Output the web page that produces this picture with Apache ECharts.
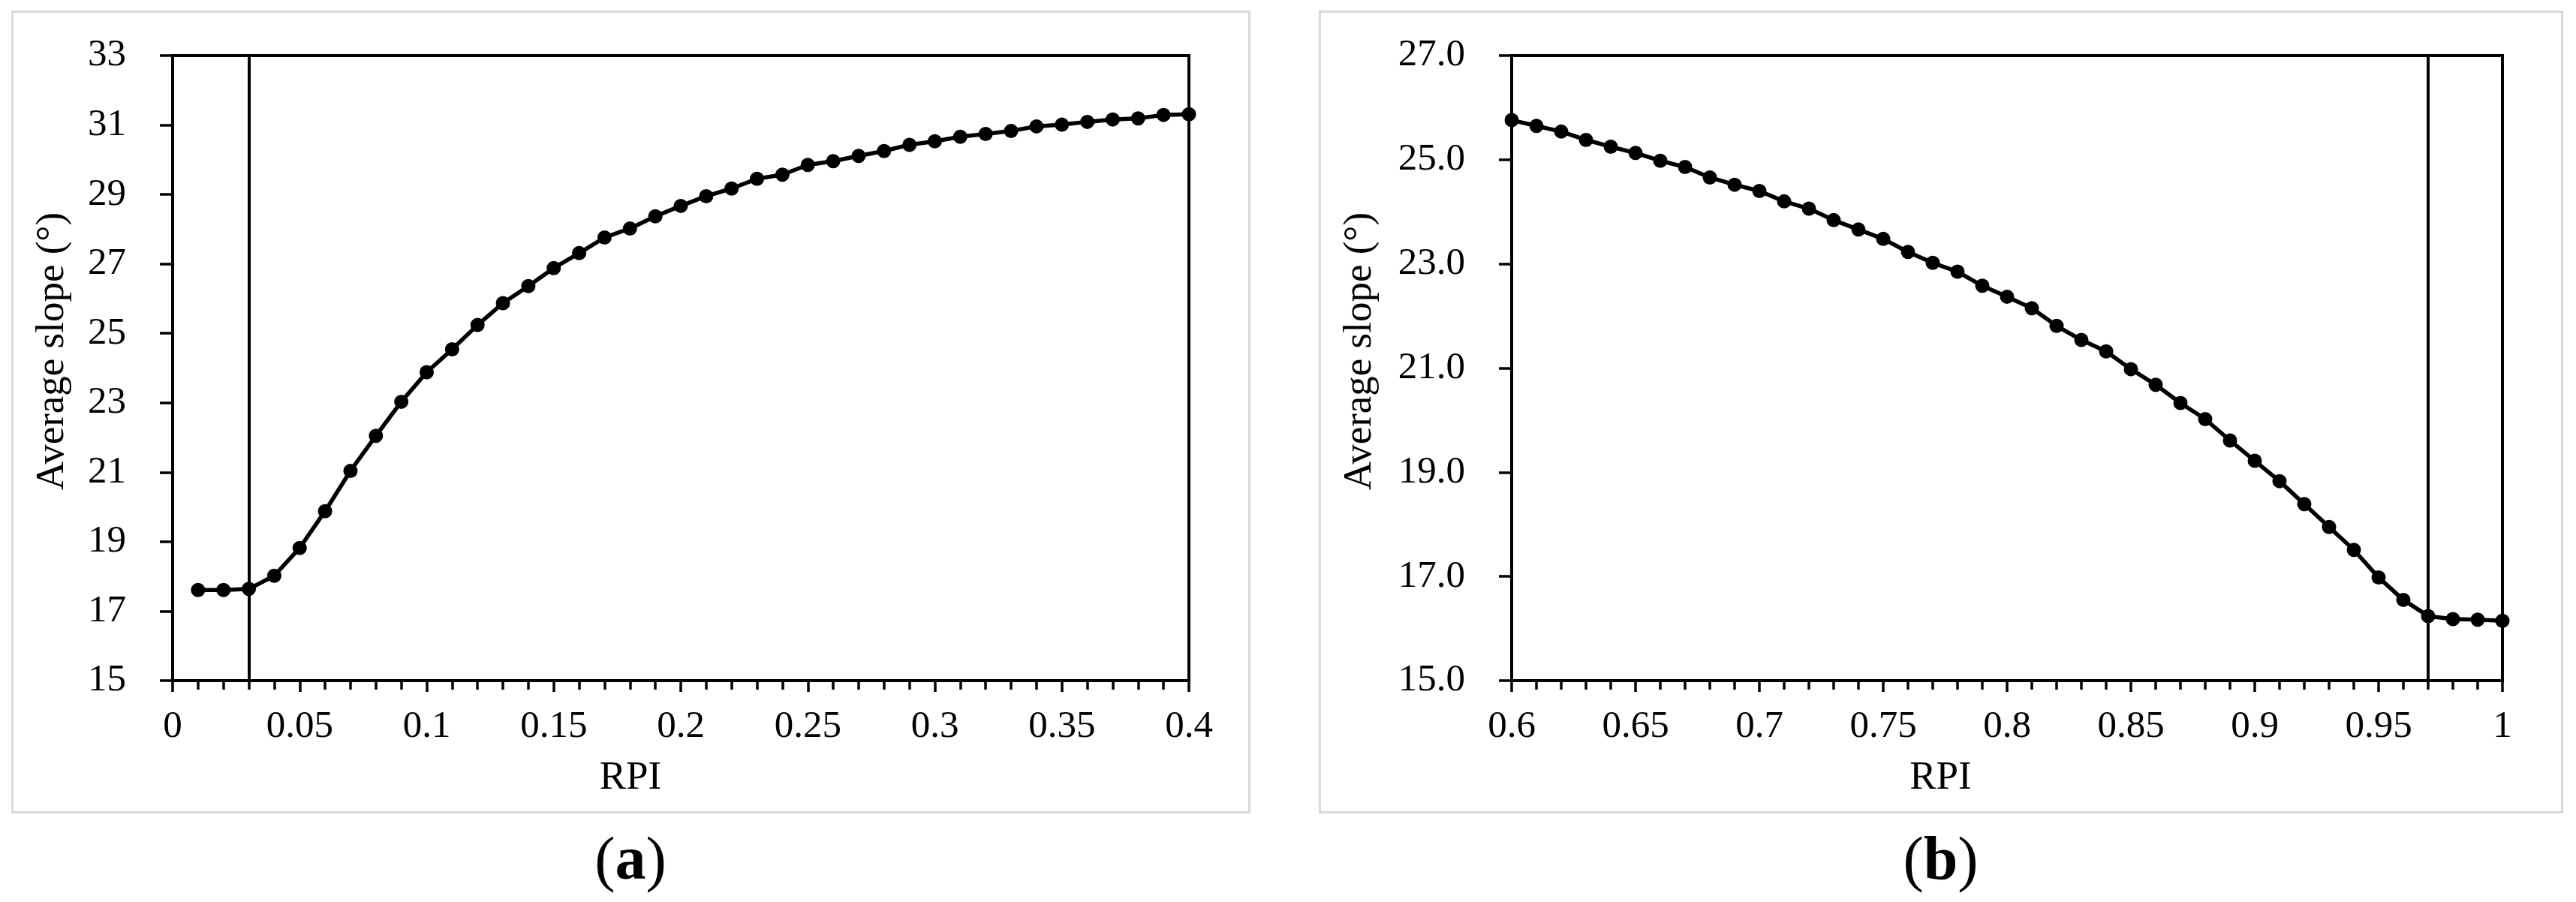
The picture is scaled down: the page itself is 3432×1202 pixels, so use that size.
<!DOCTYPE html>
<html>
<head>
<meta charset="utf-8">
<script src="https://cdn.jsdelivr.net/npm/echarts@6/dist/echarts.min.js"></script>
<style>
html,body{margin:0;padding:0;background:#ffffff;}
#chart{width:3432px;height:1202px;}
</style>
</head>
<body>
<div id="chart"></div>
<script>
// ---- Data ----
const rpiA = [0.01,0.02,0.03,0.04,0.05,0.06,0.07,0.08,0.09,0.10,
              0.11,0.12,0.13,0.14,0.15,0.16,0.17,0.18,0.19,0.20,
              0.21,0.22,0.23,0.24,0.25,0.26,0.27,0.28,0.29,0.30,
              0.31,0.32,0.33,0.34,0.35,0.36,0.37,0.38,0.39,0.40];
const slopeA = [17.61,17.61,17.64,18.02,18.82,19.88,21.04,22.05,23.03,23.88,
                24.54,25.24,25.87,26.36,26.88,27.31,27.76,28.02,28.37,28.67,
                28.95,29.17,29.45,29.57,29.85,29.96,30.11,30.25,30.43,30.53,
                30.66,30.74,30.83,30.96,31.01,31.09,31.16,31.19,31.29,31.31];
const rpiB = [0.60,0.61,0.62,0.63,0.64,0.65,0.66,0.67,0.68,0.69,
              0.70,0.71,0.72,0.73,0.74,0.75,0.76,0.77,0.78,0.79,
              0.80,0.81,0.82,0.83,0.84,0.85,0.86,0.87,0.88,0.89,
              0.90,0.91,0.92,0.93,0.94,0.95,0.96,0.97,0.98,0.99,1.00];
const slopeB = [25.76,25.65,25.54,25.38,25.25,25.13,24.98,24.86,24.66,24.52,
                24.40,24.20,24.06,23.84,23.66,23.48,23.23,23.02,22.85,22.58,
                22.37,22.15,21.81,21.54,21.32,20.98,20.68,20.33,20.02,19.61,
                19.22,18.83,18.39,17.95,17.51,16.98,16.55,16.24,16.18,16.17,16.15];
const thresholdA = 0.03;
const thresholdB = 0.97;
const xRangeA = [0, 0.4, 0.05];
const xRangeB = [0.6, 1.0, 0.05];
const yRangeA = [15, 33, 2];
const yRangeB = [15, 27, 2];
const xTitle = 'RPI';
const yTitle = 'Average slope (°)';
const captions = ['a', 'b'];

// ---- Chart ----
const FONT = '"Liberation Serif", "Times New Roman", serif';
const chart = echarts.init(document.getElementById('chart'), null, {renderer: 'canvas'});

function xAxisCfg(idx, range) {
  return {
    type: 'value', gridIndex: idx,
    min: range[0], max: range[1], interval: range[2],
    axisLine: {show: true, onZero: false, lineStyle: {color: '#000', width: 4}},
    axisTick: {show: true, inside: false, length: 15, lineStyle: {color: '#000', width: 3.5}},
    minorTick: {show: true, splitNumber: 5, length: 12, lineStyle: {color: '#000', width: 3.5}},
    axisLabel: {show: true, margin: 36, color: '#000', fontFamily: FONT, fontSize: 51},
    splitLine: {show: false}, minorSplitLine: {show: false}
  };
}
function yAxisCfg(idx, range, fmt) {
  return {
    type: 'value', gridIndex: idx,
    min: range[0], max: range[1], interval: range[2],
    axisLine: {show: true, onZero: false, lineStyle: {color: '#000', width: 4}},
    axisTick: {show: true, inside: false, length: 17, lineStyle: {color: '#000', width: 3.5}},
    axisLabel: {show: true, margin: 62, color: '#000', fontFamily: FONT, fontSize: 51, formatter: fmt},
    splitLine: {show: false}
  };
}
function seriesCfg(idx, xs, ys, thr) {
  return {
    type: 'line', xAxisIndex: idx, yAxisIndex: idx,
    data: xs.map((x, i) => [x, ys[i]]),
    clip: false,
    symbol: 'circle', symbolSize: 19,
    itemStyle: {color: '#000'},
    lineStyle: {color: '#000', width: 5.5},
    animation: false,
    markLine: {
      silent: true, symbol: ['none', 'none'],
      label: {show: false},
      lineStyle: {color: '#000', width: 4, type: 'solid'},
      data: [{xAxis: thr}],
      animation: false
    }
  };
}

const panels = [
  {x: 16, y: 15, w: 1648, h: 1067},
  {x: 1758, y: 15, w: 1655, h: 1067}
];

const graphics = [];
panels.forEach((p, i) => {
  graphics.push({
    type: 'rect', silent: true, z: 0,
    shape: {x: p.x + 0.5, y: p.y + 0.5, width: p.w, height: p.h},
    style: {fill: null, stroke: '#d9d9d9', lineWidth: 3}
  });
  const cx = p.x + p.w / 2;
  graphics.push({
    type: 'text', silent: true, x: cx, y: 1037,
    style: {text: xTitle, fill: '#000', font: '53px ' + FONT, textAlign: 'center', textVerticalAlign: 'middle'}
  });
  graphics.push({
    type: 'text', silent: true, x: p.x + 54, y: 468, rotation: Math.PI / 2,
    style: {text: yTitle, fill: '#000', font: '53px ' + FONT, textAlign: 'center', textVerticalAlign: 'middle'}
  });
  graphics.push({
    type: 'text', silent: true, x: cx, y: 1150,
    style: {
      text: '{p|(}{b|' + captions[i] + '}{p|)}',
      textAlign: 'center', textVerticalAlign: 'middle',
      rich: {
        p: {fontFamily: FONT, fontSize: 82, fill: '#000', fontWeight: 'normal'},
        b: {fontFamily: FONT, fontSize: 82, fill: '#000', fontWeight: 'bold'}
      }
    }
  });
});

const option = {
  backgroundColor: '#ffffff',
  animation: false,
  grid: [
    {left: 230, top: 74, width: 1354, height: 833, show: true, borderColor: '#000', borderWidth: 4, backgroundColor: 'transparent'},
    {left: 2014, top: 74, width: 1320, height: 833, show: true, borderColor: '#000', borderWidth: 4, backgroundColor: 'transparent'}
  ],
  xAxis: [xAxisCfg(0, xRangeA), xAxisCfg(1, xRangeB)],
  yAxis: [
    yAxisCfg(0, yRangeA, v => String(v)),
    yAxisCfg(1, yRangeB, v => v.toFixed(1))
  ],
  series: [
    seriesCfg(0, rpiA, slopeA, thresholdA),
    seriesCfg(1, rpiB, slopeB, thresholdB)
  ],
  graphic: graphics
};
chart.setOption(option);
</script>
</body>
</html>
